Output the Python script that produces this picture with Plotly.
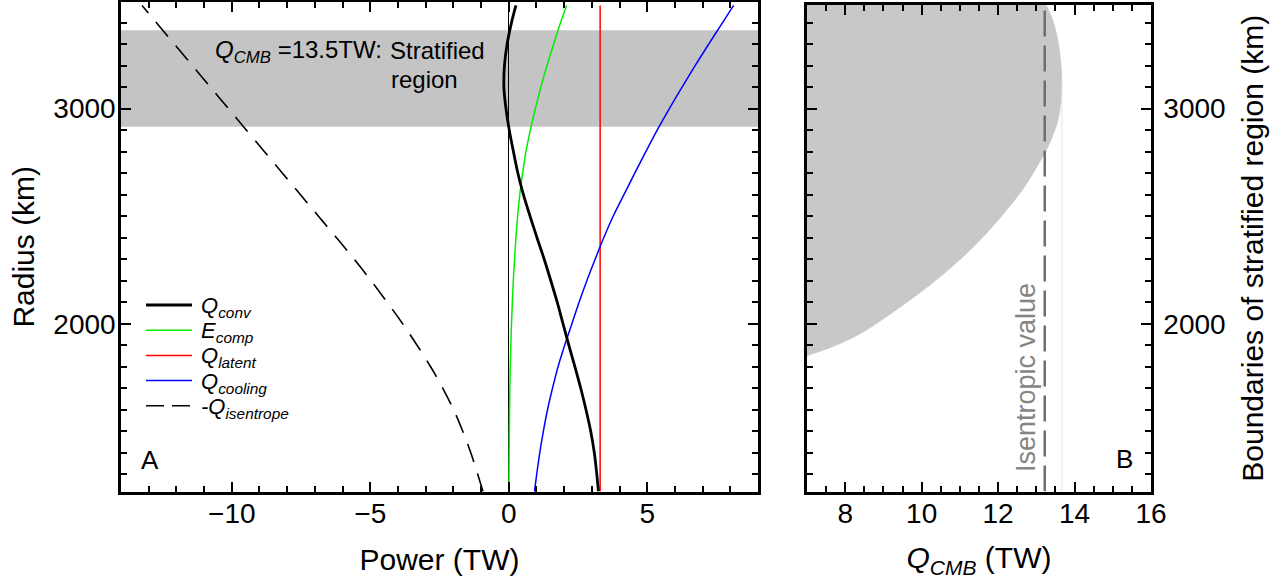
import plotly.graph_objects as go

# ---------------- data ----------------
radius = [1220, 1300, 1400, 1500, 1600, 1700, 1800, 1900, 2000, 2100, 2200, 2300,
          2400, 2500, 2600, 2700, 2800, 2900, 3000, 3100, 3200, 3300, 3400, 3480]
q_conv = [3.24, 3.18, 3.09, 2.96, 2.79, 2.60, 2.39, 2.17, 1.96, 1.75, 1.52, 1.28,
          1.02, 0.77, 0.53, 0.33, 0.17, 0.02, -0.10, -0.175, -0.155, -0.06, 0.10, 0.26]
e_comp = [0.008, 0.01, 0.015, 0.022, 0.03, 0.04, 0.055, 0.075, 0.10, 0.13, 0.165, 0.21,
          0.26, 0.32, 0.40, 0.50, 0.62, 0.78, 0.96, 1.16, 1.38, 1.62, 1.87, 2.09]
q_latent = [3.3] * len(radius)
q_cooling = [0.93, 1.01, 1.12, 1.25, 1.40, 1.58, 1.78, 2.02, 2.28, 2.54, 2.82, 3.12,
             3.43, 3.77, 4.16, 4.55, 4.95, 5.36, 5.80, 6.26, 6.73, 7.22, 7.72, 8.12]
neg_q_isentrope = [-0.93, -1.12, -1.37, -1.66, -1.99, -2.38, -2.82, -3.31, -3.83, -4.39,
                   -4.97, -5.58, -6.22, -6.87, -7.52, -8.17, -8.82, -9.47, -10.12,
                   -10.77, -11.42, -12.07, -12.72, -13.24]

strat_bottom, strat_top = 2916, 3365          # stratified layer for Q_CMB = 13.5 TW

# panel B: boundary of stratified region vs Q_CMB
b_radius = [1851, 1895, 1957, 2050, 2173, 2297, 2421, 2545, 2638, 2731, 2793, 2855,
            2948, 3040, 3118, 3195, 3304, 3412, 3482]
b_qcmb = [7.0, 7.70, 8.43, 9.22, 10.17, 11.0, 11.70, 12.30, 12.70, 13.02, 13.22, 13.39,
          13.57, 13.65, 13.67, 13.65, 13.58, 13.43, 13.26]
q_isentropic = 13.22
q_max = 13.67
r_qmax = 3118
r_icb, r_cmb = 1220, 3482

xticks_a = [-10, -5, 0, 5]
xticks_b = [8, 10, 12, 14, 16]
yticks = [2000, 3000]

# ---------------- layout helpers ----------------
W, H = 1281, 581
FONT = "Liberation Sans"


def px(x):
    return x / W


def py(y):
    return 1 - y / H


fig = go.Figure()

# ---- panel A traces ----
fig.add_trace(go.Scatter(x=neg_q_isentrope, y=radius, mode="lines", name="-Q_isentrope",
                         line=dict(color="black", width=1.6, dash="19px,12px", shape="spline"),
                         xaxis="x", yaxis="y", showlegend=False))
fig.add_trace(go.Scatter(x=e_comp, y=radius, mode="lines", name="E_comp",
                         line=dict(color="#00ee00", width=1.5, shape="spline"),
                         xaxis="x", yaxis="y", showlegend=False))
fig.add_trace(go.Scatter(x=q_latent, y=radius, mode="lines", name="Q_latent",
                         line=dict(color="#ff0000", width=1.5),
                         xaxis="x", yaxis="y", showlegend=False))
fig.add_trace(go.Scatter(x=q_cooling, y=radius, mode="lines", name="Q_cooling",
                         line=dict(color="#0000ff", width=1.5, shape="spline"),
                         xaxis="x", yaxis="y", showlegend=False))
fig.add_trace(go.Scatter(x=q_conv, y=radius, mode="lines", name="Q_conv",
                         line=dict(color="black", width=2.8, shape="spline"),
                         xaxis="x", yaxis="y", showlegend=False))

# ---- panel B traces ----
fig.add_trace(go.Scatter(x=b_qcmb, y=b_radius, mode="lines", fill="tozerox",
                         fillcolor="#c8c8c8", line=dict(color="#c8c8c8", width=0.5, shape="spline"),
                         xaxis="x2", yaxis="y2", showlegend=False, name="stratified"))
fig.add_trace(go.Scatter(x=[q_max, q_max], y=[r_icb, r_qmax], mode="lines",
                         line=dict(color="#e4e4e4", width=1),
                         xaxis="x2", yaxis="y2", showlegend=False, name="max"))
fig.add_trace(go.Scatter(x=[q_isentropic, q_isentropic], y=[r_icb, r_cmb], mode="lines",
                         line=dict(color="#6e6e6e", width=2.5, dash="26px,9px"),
                         xaxis="x2", yaxis="y2", showlegend=False, name="Isentropic value"))

# stratified band in panel A
fig.add_shape(type="rect", xref="x domain", yref="y", x0=0, x1=1,
              y0=strat_bottom, y1=strat_top, fillcolor="#c4c4c4", line_width=0, layer="below")

axis_common = dict(showline=True, linecolor="black", linewidth=2.5, mirror="ticks",
                   ticks="inside", ticklen=10, tickwidth=1.8, tickcolor="black",
                   showgrid=False, tickfont=dict(family=FONT, size=28, color="black"),
                   automargin=False)

fig.update_layout(
    width=W, height=H, margin=dict(l=0, r=0, t=0, b=0),
    paper_bgcolor="white", plot_bgcolor="white", showlegend=False,
    font=dict(family=FONT, color="black"),
    xaxis=dict(domain=[px(121), px(758)], range=[-14, 9], tickvals=xticks_a,
               zeroline=True, zerolinecolor="black", zerolinewidth=1.3,
               minor=dict(dtick=1, tick0=0, ticks="inside", ticklen=6, tickwidth=1.5, tickcolor="black"),
               title=dict(text="Power (TW)", font=dict(family=FONT, size=30), standoff=22),
               ticklabelstandoff=-5,
               anchor="y", **axis_common),
    yaxis=dict(domain=[py(491.5), py(2)], range=[1220, 3496], tickvals=yticks, zeroline=False,
               minor=dict(dtick=100, tick0=0, ticks="inside", ticklen=6, tickwidth=1.5, tickcolor="black"),
               title=dict(text="Radius (km)", font=dict(family=FONT, size=30), standoff=10),
               ticklabelstandoff=-3,
               anchor="x", **axis_common),
    xaxis2=dict(domain=[px(807), px(1151)], range=[7, 16], tickvals=xticks_b, zeroline=False,
                minor=dict(dtick=0.5, tick0=0, ticks="inside", ticklen=6, tickwidth=1.5, tickcolor="black"),
                title=dict(text="<i>Q<sub>CMB</sub></i> (TW)", font=dict(family=FONT, size=30), standoff=20),
                ticklabelstandoff=-5,
                anchor="y2", **axis_common),
    yaxis2=dict(domain=[py(491.5), py(5)], range=[1220, 3482], tickvals=yticks, zeroline=False,
                side="right",
                minor=dict(dtick=100, tick0=0, ticks="inside", ticklen=6, tickwidth=1.5, tickcolor="black"),
                title=dict(text="Boundaries of stratified region (km)", font=dict(family=FONT, size=30), standoff=18),
                ticklabelstandoff=4,
                anchor="x2", **axis_common),
)

# ---- manual legend ----
legend_items = [
    ("<i>Q<sub>conv</sub></i>", dict(color="black", width=2.8)),
    ("<i>E<sub>comp</sub></i>", dict(color="#00ee00", width=1.5)),
    ("<i>Q<sub>latent</sub></i>", dict(color="#ff0000", width=1.5)),
    ("<i>Q<sub>cooling</sub></i>", dict(color="#0000ff", width=1.5)),
    ("<i>-Q<sub>isentrope</sub></i>", dict(color="black", width=1.5, dash="18px,8px")),
]
for i, (label, ln) in enumerate(legend_items):
    yy = 305 + 25.2 * i
    fig.add_shape(type="line", xref="paper", yref="paper", x0=px(146), x1=px(192),
                  y0=py(yy), y1=py(yy), line=ln)
    fig.add_annotation(text=label, xref="paper", yref="paper", x=px(199), y=py(yy + 2),
                       xanchor="left", yanchor="middle", showarrow=False,
                       font=dict(family=FONT, size=22, color="black"))

# ---- text annotations ----
ann_font = dict(family=FONT, size=24, color="black")
fig.add_annotation(text="<i>Q<sub>CMB</sub></i> =13.5TW:", xref="paper", yref="paper",
                   x=px(384), y=py(52), xanchor="right", yanchor="middle", showarrow=False, font=ann_font)
fig.add_annotation(text="Stratified", xref="paper", yref="paper",
                   x=px(388), y=py(50), xanchor="left", yanchor="middle", showarrow=False, font=ann_font)
fig.add_annotation(text="region", xref="paper", yref="paper",
                   x=px(389), y=py(79), xanchor="left", yanchor="middle", showarrow=False, font=ann_font)
fig.add_annotation(text="A", xref="paper", yref="paper", x=px(150), y=py(459.5),
                   xanchor="center", yanchor="middle", showarrow=False,
                   font=dict(family=FONT, size=26, color="black"))
fig.add_annotation(text="B", xref="paper", yref="paper", x=px(1124), y=py(459),
                   xanchor="center", yanchor="middle", showarrow=False,
                   font=dict(family=FONT, size=26, color="black"))
fig.add_annotation(text="Isentropic value", xref="paper", yref="paper", x=px(1026), y=py(378),
                   xanchor="center", yanchor="middle", textangle=-90, showarrow=False,
                   font=dict(family=FONT, size=27, color="#858585"))

# remove the default page margin so the figure sits at the window's top-left corner
fig.write_html("out.html", config={"displayModeBar": False},
               post_script="document.body.style.margin='0px';")
